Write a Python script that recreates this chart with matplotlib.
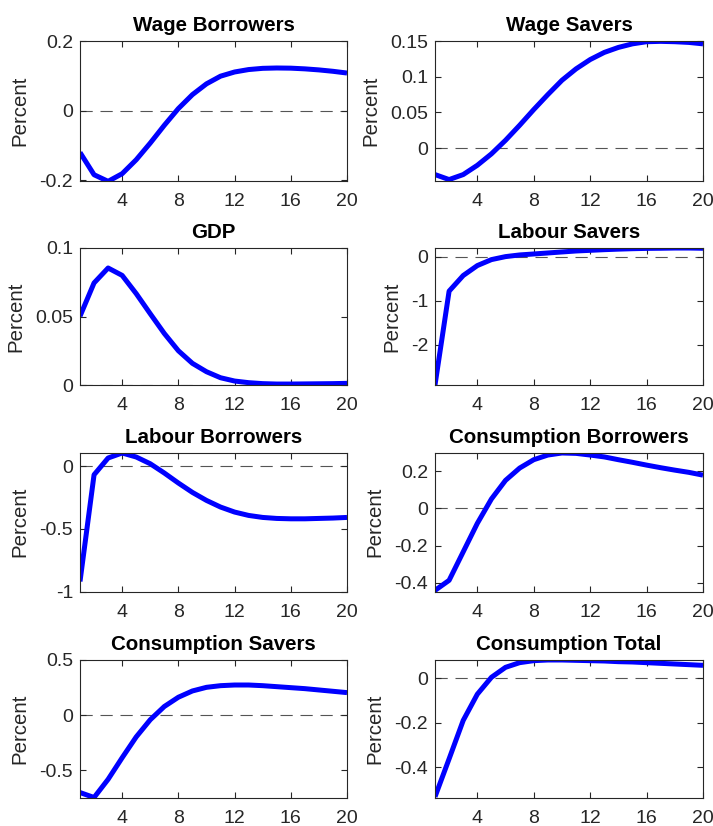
import matplotlib
matplotlib.use("Agg")
import matplotlib.pyplot as plt
from matplotlib.ticker import FuncFormatter

plt.rcParams['font.family'] = ['Liberation Sans', 'DejaVu Sans']
plt.rcParams['axes.unicode_minus'] = False

periods = list(range(1, 21))

titles = ["Wage Borrowers", "Wage Savers", "GDP", "Labour Savers",
          "Labour Borrowers", "Consumption Borrowers", "Consumption Savers",
          "Consumption Total"]

wage_borrowers = [-0.12, -0.184, -0.203, -0.181, -0.141, -0.093, -0.042, 0.006, 0.046, 0.077,
                  0.099, 0.111, 0.118, 0.1215, 0.1225, 0.122, 0.12, 0.117, 0.113, 0.108]
wage_savers = [-0.037, -0.044, -0.037, -0.024, -0.008, 0.011, 0.032, 0.054, 0.075, 0.095,
               0.111, 0.124, 0.134, 0.141, 0.146, 0.149, 0.1495, 0.149, 0.148, 0.146]
gdp = [0.0502, 0.0745, 0.0854, 0.080, 0.0667, 0.052, 0.0376, 0.025, 0.0158, 0.0097,
       0.0053, 0.0029, 0.0017, 0.001, 0.0007, 0.0007, 0.0008, 0.0009, 0.001, 0.0012]
labour_savers = [-2.92, -0.785, -0.43, -0.204, -0.068, 0.0, 0.038, 0.06, 0.083, 0.106,
                 0.128, 0.143, 0.158, 0.17, 0.18, 0.187, 0.19, 0.195, 0.195, 0.19]
labour_borrowers = [-0.92, -0.067, 0.067, 0.107, 0.075, 0.021, -0.053, -0.133, -0.208, -0.272,
                    -0.325, -0.365, -0.392, -0.408, -0.416, -0.419, -0.419, -0.416, -0.413, -0.408]
cons_borrowers = [-0.441, -0.387, -0.234, -0.081, 0.05, 0.15, 0.216, 0.261, 0.286, 0.297,
                  0.295, 0.286, 0.276, 0.261, 0.247, 0.232, 0.218, 0.205, 0.193, 0.178]
cons_savers = [-0.703, -0.748, -0.583, -0.387, -0.198, -0.042, 0.078, 0.162, 0.219, 0.252,
               0.267, 0.273, 0.273, 0.267, 0.258, 0.249, 0.24, 0.228, 0.216, 0.204]
cons_total = [-0.533, -0.362, -0.189, -0.071, 0.005, 0.05, 0.071, 0.08, 0.083, 0.083,
              0.0815, 0.08, 0.0785, 0.0755, 0.074, 0.071, 0.068, 0.065, 0.062, 0.059]

series = [wage_borrowers, wage_savers, gdp, labour_savers,
          labour_borrowers, cons_borrowers, cons_savers, cons_total]

ylims = [(-0.202, 0.2), (-0.046, 0.15), (0, 0.1), (-2.92, 0.196),
         (-1, 0.107), (-0.447, 0.297), (-0.748, 0.5), (-0.536, 0.083)]
yticks = [[-0.2, 0, 0.2], [0, 0.05, 0.1, 0.15], [0, 0.05, 0.1], [-2, -1, 0],
          [-1, -0.5, 0], [-0.4, -0.2, 0, 0.2], [-0.5, 0, 0.5], [-0.4, -0.2, 0]]
xticks = [4, 8, 12, 16, 20]

W, H = 713, 826
fig = plt.figure(figsize=(W / 100, H / 100), dpi=100)

col_x = [(80, 347), (435, 703)]
row_y = [(41, 181), (248, 385), (453, 591.5), (660, 797.5)]

fmt = FuncFormatter(lambda v, p: ('%g' % v))
edge = '#262626'

for i, (title, data) in enumerate(zip(titles, series)):
    r, c = divmod(i, 2)
    x0, x1 = col_x[c]
    y0, y1 = row_y[r]
    ax = fig.add_axes([x0 / W, 1 - y1 / H, (x1 - x0) / W, (y1 - y0) / H])
    ax.axhline(0, color='#555555', lw=0.8, dashes=(11, 7), zorder=1)
    ax.plot(periods, data, color='#0000ff', lw=3.6, zorder=2, solid_capstyle='butt')
    ax.set_xlim(1, 20)
    ax.set_ylim(*ylims[i])
    ax.set_xticks(xticks)
    ax.set_yticks(yticks[i])
    ax.yaxis.set_major_formatter(fmt)
    ax.tick_params(direction='in', top=True, right=True, length=4, width=0.8,
                   labelsize=14, colors=edge)
    ax.tick_params(axis='x', pad=9)
    ax.tick_params(axis='y', pad=5)
    for s in ax.spines.values():
        s.set_color(edge)
        s.set_linewidth(0.8)
    ax.set_title(title, fontsize=14.8, fontweight='bold', pad=7)
    ax.set_ylabel('Percent', fontsize=14.7, color=edge, labelpad=7)

fig.savefig('out.png', dpi=100)
